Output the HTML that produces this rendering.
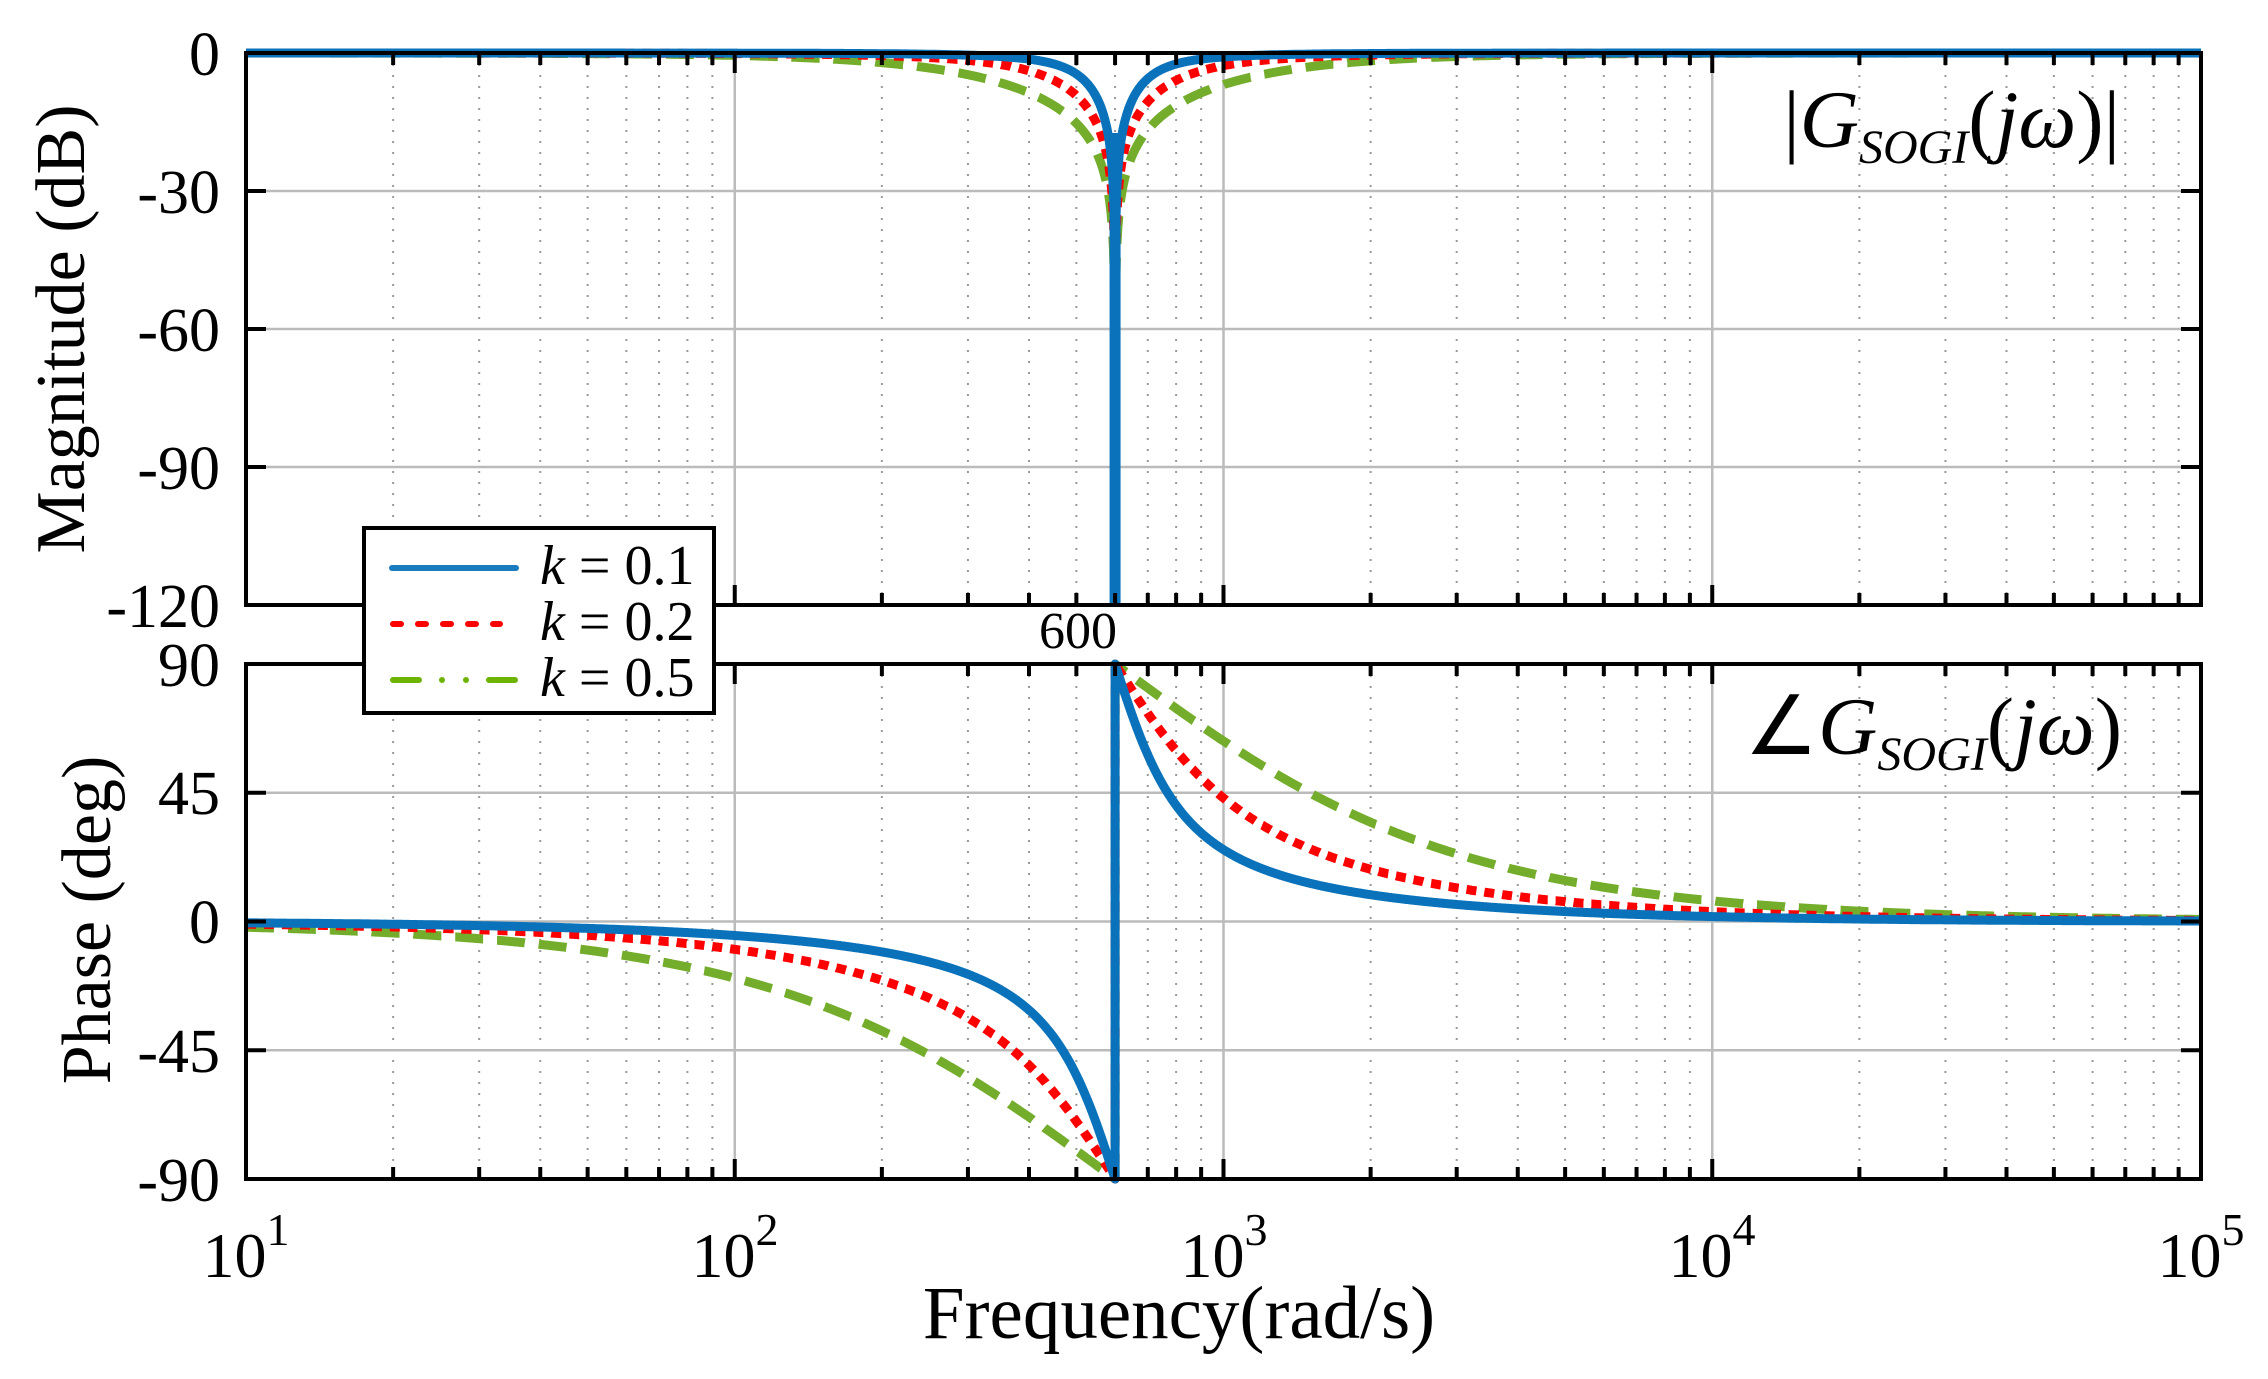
<!DOCTYPE html>
<html><head><meta charset="utf-8"><style>
html,body{margin:0;padding:0;background:#fff;}
svg{display:block;}
text{font-family:"Liberation Serif",serif;fill:#000;}
</style></head><body>
<svg id="s" width="2268" height="1379" xmlns="http://www.w3.org/2000/svg">
<g id="grid"></g>
<g id="curves"></g>
<g id="axes"></g>
<g id="labels">
<g font-size="62">
<text x="220" y="75" text-anchor="end">0</text>
<text x="220" y="213" text-anchor="end">-30</text>
<text x="220" y="351" text-anchor="end">-60</text>
<text x="220" y="489" text-anchor="end">-90</text>
<text x="220" y="627" text-anchor="end">-120</text>
<text x="220" y="686" text-anchor="end">90</text>
<text x="220" y="814" text-anchor="end">45</text>
<text x="220" y="943" text-anchor="end">0</text>
<text x="220" y="1072" text-anchor="end">-45</text>
<text x="220" y="1201" text-anchor="end">-90</text>
</g>
<text x="1078" y="648" font-size="52" text-anchor="middle">600</text>
<g font-size="64">
<text x="246" y="1277" text-anchor="middle">10<tspan font-size="46" dy="-32">1</tspan></text>
<text x="735" y="1277" text-anchor="middle">10<tspan font-size="46" dy="-32">2</tspan></text>
<text x="1224" y="1277" text-anchor="middle">10<tspan font-size="46" dy="-32">3</tspan></text>
<text x="1712" y="1277" text-anchor="middle">10<tspan font-size="46" dy="-32">4</tspan></text>
<text x="2201" y="1277" text-anchor="middle">10<tspan font-size="46" dy="-32">5</tspan></text>
</g>
<text x="1179" y="1338" font-size="75" text-anchor="middle">Frequency(rad/s)</text>
<text transform="translate(84,329) rotate(-90)" font-size="70" text-anchor="middle">Magnitude (dB)</text>
<text transform="translate(110,920) rotate(-90)" font-size="70" text-anchor="middle">Phase (deg)</text>
<text x="2120" y="147" font-size="82" text-anchor="end">|<tspan font-style="italic">G</tspan><tspan font-style="italic" font-size="48" dy="16">SOGI</tspan><tspan dy="-16">(</tspan><tspan font-style="italic">jω</tspan>)|</text>
<text x="2122" y="754" font-size="82" text-anchor="end">∠<tspan font-style="italic">G</tspan><tspan font-style="italic" font-size="48" dy="16">SOGI</tspan><tspan dy="-16">(</tspan><tspan font-style="italic">jω</tspan>)</text>
</g>
<g id="legend">
<rect x="364" y="528" width="350" height="185" fill="#fff" stroke="#000" stroke-width="4"/>
<line x1="392" y1="568" x2="516" y2="568" stroke="#1a7bbf" stroke-width="6" stroke-linecap="round"/>
<line x1="393" y1="624" x2="500" y2="624" stroke="#f00" stroke-width="6" stroke-linecap="round" stroke-dasharray="8 17"/>
<line x1="393" y1="680" x2="516" y2="680" stroke="#6db300" stroke-width="6" stroke-linecap="round" stroke-dasharray="26 23 0 24 0 23 26"/>
<g font-size="56">
<text x="540" y="584"><tspan font-style="italic">k</tspan> = 0.1</text>
<text x="540" y="640"><tspan font-style="italic">k</tspan> = 0.2</text>
<text x="540" y="696"><tspan font-style="italic">k</tspan> = 0.5</text>
</g>
</g>
</svg>
<script>
(function(){
var NS="http://www.w3.org/2000/svg";
var L=246,R=2201,D=(R-L)/4;
var MT=53,MB=605,PT=664,PB=1179;
function X(w){return L+(Math.log10(w)-1)*D;}
function el(p,t,a){var e=document.createElementNS(NS,t);for(var k in a)e.setAttribute(k,a[k]);p.appendChild(e);return e;}
var g=document.getElementById('grid'),ax=document.getElementById('axes'),cv=document.getElementById('curves');
[[MT,MB],[PT,PB]].forEach(function(p){
 var t=p[0],b=p[1];
 for(var d=1;d<5;d++)for(var m=2;m<10;m++){var x=X(m*Math.pow(10,d));
  el(g,'line',{x1:x,y1:t,x2:x,y2:b,stroke:'#999','stroke-width':2,'stroke-dasharray':'2 9'});
  el(ax,'line',{x1:x,y1:t,x2:x,y2:t+12,stroke:'#000','stroke-width':4});
  el(ax,'line',{x1:x,y1:b,x2:x,y2:b-12,stroke:'#000','stroke-width':4});}
 for(var d=2;d<5;d++){var x=X(Math.pow(10,d));
  el(g,'line',{x1:x,y1:t,x2:x,y2:b,stroke:'#bbb','stroke-width':2.5});
  el(ax,'line',{x1:x,y1:t,x2:x,y2:t+20,stroke:'#000','stroke-width':4});
  el(ax,'line',{x1:x,y1:b,x2:x,y2:b-20,stroke:'#000','stroke-width':4});}
 for(var i=1;i<4;i++){var y=t+(b-t)*i/4;
  el(g,'line',{x1:L,y1:y,x2:R,y2:y,stroke:'#bbb','stroke-width':2.5});
  el(ax,'line',{x1:L,y1:y,x2:L+20,y2:y,stroke:'#000','stroke-width':4});
  el(ax,'line',{x1:R,y1:y,x2:R-20,y2:y,stroke:'#000','stroke-width':4});}
 el(ax,'rect',{x:L,y:t,width:R-L,height:b-t,fill:'none',stroke:'#000','stroke-width':4});
});
var w0=600;
var series=[{k:2.1,c:'#74ad2b',da:'28 14',w:9},{k:1.0,c:'#f00',da:'10 8',w:9},{k:0.5,c:'#0a72ba',da:'',w:9}];
series.forEach(function(s){
 var dm='',pl='',pr='';
 var N=3000;
 for(var i=0;i<=N;i++){
  var lw=1+4*i/N,w=Math.pow(10,lw);
  var re=w0*w0-w*w,im=s.k*w0*w;
  var mag=Math.abs(re)/Math.sqrt(re*re+im*im);
  var db=20*Math.log10(Math.max(mag,1e-9)); if(db<-120)db=-120;
  var ym=MT+(-db)/120*(MB-MT);
  var x=X(w);
  dm+=(i?'L':'M')+x.toFixed(1)+' '+ym.toFixed(1);
  var ph;
  if(w<w0){ph=-Math.atan(im/re)*180/Math.PI;var y=PT+(90-ph)/180*(PB-PT);pl+=(pl?'L':'M')+x.toFixed(1)+' '+y.toFixed(1);}
  else{ph=(re>=0)?90:Math.atan(im/(-re))*180/Math.PI;var y=PT+(90-ph)/180*(PB-PT);pr+=(pr?'L':'M')+x.toFixed(1)+' '+y.toFixed(1);}
 }
 var xn=X(w0);
 var base={fill:'none',stroke:s.c,'stroke-width':s.w,'stroke-linejoin':'round'};
 if(s.da)base['stroke-dasharray']=s.da;
 el(cv,'path',Object.assign({},base,{d:dm}));
 var ph2=pl+'L'+xn.toFixed(1)+' '+PB+'L'+xn.toFixed(1)+' '+PT+pr.replace(/^M/,'L');
 el(cv,'path',Object.assign({},base,{d:ph2}));
});
el(cv,'line',{x1:X(w0),y1:MT+80,x2:X(w0),y2:MB,stroke:'#0a72ba','stroke-width':11});
})();
</script>
</body></html>
